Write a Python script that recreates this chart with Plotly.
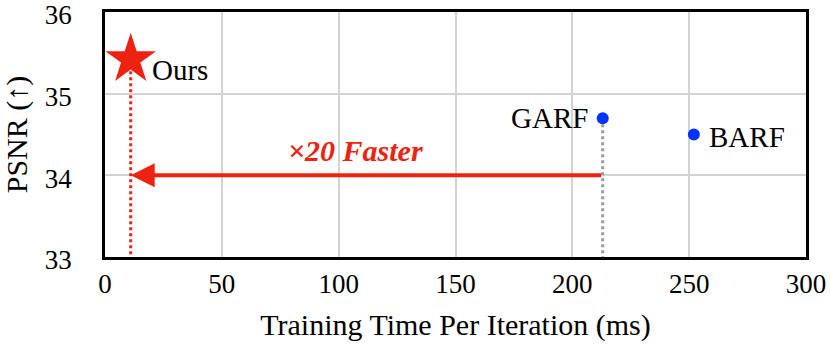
import plotly.graph_objects as go

methods = ['Ours', 'GARF', 'BARF']
train_time = [11, 213, 252]      # ms per iteration
psnr = [35.42, 34.70, 34.50]

x_ticks = [0, 50, 100, 150, 200, 250, 300]
y_ticks = [33, 34, 35, 36]

RED = '#ee2211'
BLUE = '#0033ff'
FONT = 'Liberation Serif, Times New Roman, serif'

fig = go.Figure()

# dotted drop lines
fig.add_trace(go.Scatter(x=[train_time[0], train_time[0]], y=[psnr[0], 33], mode='lines',
                         line=dict(color=RED, width=3, dash='dot'), hoverinfo='skip'))
fig.add_trace(go.Scatter(x=[train_time[1], train_time[1]], y=[psnr[1], 33], mode='lines',
                         line=dict(color='#999999', width=3, dash='dot'), hoverinfo='skip'))

# points
fig.add_trace(go.Scatter(x=train_time[:1], y=psnr[:1], mode='markers',
                         marker=dict(symbol='star', size=38, color=RED, line=dict(width=0))))
fig.add_trace(go.Scatter(x=train_time[1:], y=psnr[1:], mode='markers',
                         marker=dict(size=12, color=BLUE)))

# point labels
label_pos = [('left', 19, -11), ('right', -13, 0), ('left', 13, -2)]
for name, t, p, (anchor, dx, dy) in zip(methods, train_time, psnr, label_pos):
    fig.add_annotation(x=t, y=p, text=name, showarrow=False, xanchor=anchor, xshift=dx, yshift=dy,
                       font=dict(size=29, color='black', family=FONT))

# speed-up arrow
fig.add_annotation(x=train_time[0], y=34, ax=train_time[1], ay=34, xref='x', yref='y',
                   axref='x', ayref='y', text='', showarrow=True, arrowhead=2,
                   arrowsize=1.2, arrowwidth=4, arrowcolor=RED)
fig.add_annotation(x=107, y=34.3, xref='x', yref='y', text='<b><i>×20 Faster</i></b>',
                   showarrow=False, font=dict(size=30, color=RED, family=FONT))

fig.update_layout(
    width=830, height=359,
    margin=dict(t=12, b=102, l=105, r=24),
    plot_bgcolor='white', paper_bgcolor='white',
    showlegend=False,
    font=dict(family=FONT, size=27, color='black'),
    xaxis=dict(range=[0, 300], tickvals=x_ticks, showgrid=True, gridcolor='#d3d3d3', gridwidth=2,
               showline=True, linecolor='black', linewidth=2.5, mirror=True, zeroline=False,
               automargin=False, ticks='', ticklen=0, ticklabeloverflow='allow',
               ticklabelstandoff=1, tickfont=dict(family=FONT, size=27),
               title=dict(text='Training Time Per Iteration (ms)', standoff=16,
                          font=dict(family=FONT, size=30))),
    yaxis=dict(range=[33, 36], tickvals=y_ticks, showgrid=True, gridcolor='#d3d3d3', gridwidth=2,
               showline=True, linecolor='black', linewidth=2.5, mirror=True, zeroline=False,
               automargin=False, ticks='', ticklen=0, ticklabeloverflow='allow',
               ticklabelstandoff=25, ticklabelshift=3, tickfont=dict(family=FONT, size=27),
               title=dict(text='PSNR (↑)', standoff=14, font=dict(family=FONT, size=30))),
)

# drop the default 8px body margin so the 830x359 figure fills the window exactly
fig.write_html("out.html", config={'displayModeBar': False},
               post_script="document.body.style.margin='0';")
